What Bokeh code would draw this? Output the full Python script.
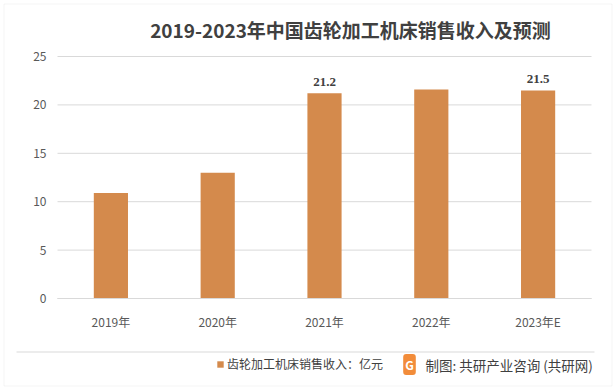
from bokeh.plotting import figure
from bokeh.models import (ColumnDataSource, Label, Legend, LegendItem, BoxAnnotation,
                          Range1d, FixedTicker)
from bokeh.embed import file_html
from bokeh.resources import INLINE

# ---- data ----
years = ["2019年", "2020年", "2021年", "2022年", "2023年E"]
revenue = [10.9, 13.0, 21.2, 21.6, 21.5]
shown_labels = ["", "", "21.2", "", "21.5"]
y_ticks = [0, 5, 10, 15, 20, 25]
title_text = "2019-2023年中国齿轮加工机床销售收入及预测"
series_name = "齿轮加工机床销售收入：亿元"
source_text = "制图: 共研产业咨询 (共研网)"

FONT = "Noto Sans CJK SC"
BAR = "#D48A4C"
GRID = "#D9D9D9"
TXT = "#595959"

W, H = 616, 389
# layout geometry (pixels inside the figure)
plot_left, plot_right = 57, 591      # category band
zero_y, top_y = 298, 56              # pixel rows of 0 and of max tick
n = len(years)
px_cat = (plot_right - plot_left) / n
px_unit = (zero_y - top_y) / y_ticks[-1]

idx = list(range(n))
src = ColumnDataSource(dict(x=idx, year=years, revenue=revenue, lbl=shown_labels))

x0 = -0.5 - plot_left / px_cat
x1 = n - 0.5 + (W - plot_right) / px_cat
y0 = -(H - zero_y) / px_unit
y1 = zero_y / px_unit

p = figure(x_range=Range1d(x0, x1), y_range=Range1d(y0, y1),
           width=W, height=H, output_backend="svg", toolbar_location=None,
           min_border=0)
p.outline_line_color = None
p.background_fill_color = "white"
p.border_fill_color = "white"
p.xgrid.grid_line_color = None
p.ygrid.grid_line_color = None

# outer frame of the picture
p.add_layout(BoxAnnotation(left=3.5, right=W - 4.5, bottom=3.5, top=H - 3.5,
                           left_units="screen", right_units="screen",
                           bottom_units="screen", top_units="screen",
                           fill_alpha=0, line_color=GRID, line_width=1))

# horizontal grid lines, from the tick values
p.segment(x0=-0.5, x1=n - 0.5, y0=y_ticks, y1=y_ticks, line_color=GRID, line_width=1)

bars = p.vbar(x="x", top="revenue", width=0.32, source=src,
              fill_color=BAR, line_color=None)

p.text(x="x", y="revenue", text="lbl", source=src, text_align="center",
       text_baseline="bottom", y_offset=-7, text_font_size="13px",
       text_font_style="bold", text_color="#404040", text_font=FONT)

# axes
p.yaxis.fixed_location = -0.5
p.yaxis.bounds = (y_ticks[0], y_ticks[-1])
p.yaxis.ticker = FixedTicker(ticks=y_ticks)
p.yaxis.axis_line_color = None
p.yaxis.major_tick_line_color = None
p.yaxis.minor_tick_line_color = None
p.yaxis.major_tick_in = 0
p.yaxis.major_tick_out = 0
p.yaxis.major_label_standoff = 11
p.yaxis.major_label_text_font = FONT
p.yaxis.major_label_text_font_size = "12px"
p.yaxis.major_label_text_color = TXT

p.xaxis.fixed_location = 0
p.xaxis.bounds = (-0.5, n - 0.5)
p.xaxis.ticker = FixedTicker(ticks=idx)
p.xaxis.major_label_overrides = {i: y for i, y in zip(idx, years)}
p.xaxis.axis_line_color = GRID
p.xaxis.major_tick_line_color = None
p.xaxis.minor_tick_line_color = None
p.xaxis.major_tick_in = 0
p.xaxis.major_tick_out = 0
p.xaxis.major_label_standoff = 14
p.xaxis.major_label_text_font = FONT
p.xaxis.major_label_text_font_size = "12px"
p.xaxis.major_label_text_color = TXT

# title
p.add_layout(Label(x=350, y=H - 29, x_units="screen", y_units="screen", text=title_text,
                   text_align="center", text_baseline="middle", text_font=FONT,
                   text_font_size="19px", text_font_style="bold", text_color="#404040"))

# separator line above legend
p.add_layout(BoxAnnotation(left=16, right=594, bottom=H - 352, top=H - 351,
                           left_units="screen", right_units="screen",
                           bottom_units="screen", top_units="screen",
                           fill_color=GRID, fill_alpha=1, line_color=None))

# legend
legend = Legend(items=[LegendItem(label=series_name, renderers=[bars])],
                location=(216, H - 372), glyph_width=8, glyph_height=8, label_standoff=3,
                padding=0, margin=0, spacing=0, label_height=16,
                border_line_color=None, background_fill_alpha=0,
                label_text_font=FONT, label_text_font_size="12px", label_text_color="#404040")
p.add_layout(legend)

# source logo and text
p.add_layout(Label(x=409, y=H - 364, x_units="screen", y_units="screen", text="G",
                   text_align="center", text_baseline="middle", text_font=FONT,
                   text_font_size="12px", text_font_style="bold", text_color="white",
                   background_fill_color="#F28C3A", padding=2, border_radius=3))
p.add_layout(Label(x=425, y=H - 364, x_units="screen", y_units="screen", text=source_text,
                   text_align="left", text_baseline="middle", text_font=FONT,
                   text_font_size="13.5px", text_color="#404040"))

open("out.html", "w").write(file_html(p, INLINE))
